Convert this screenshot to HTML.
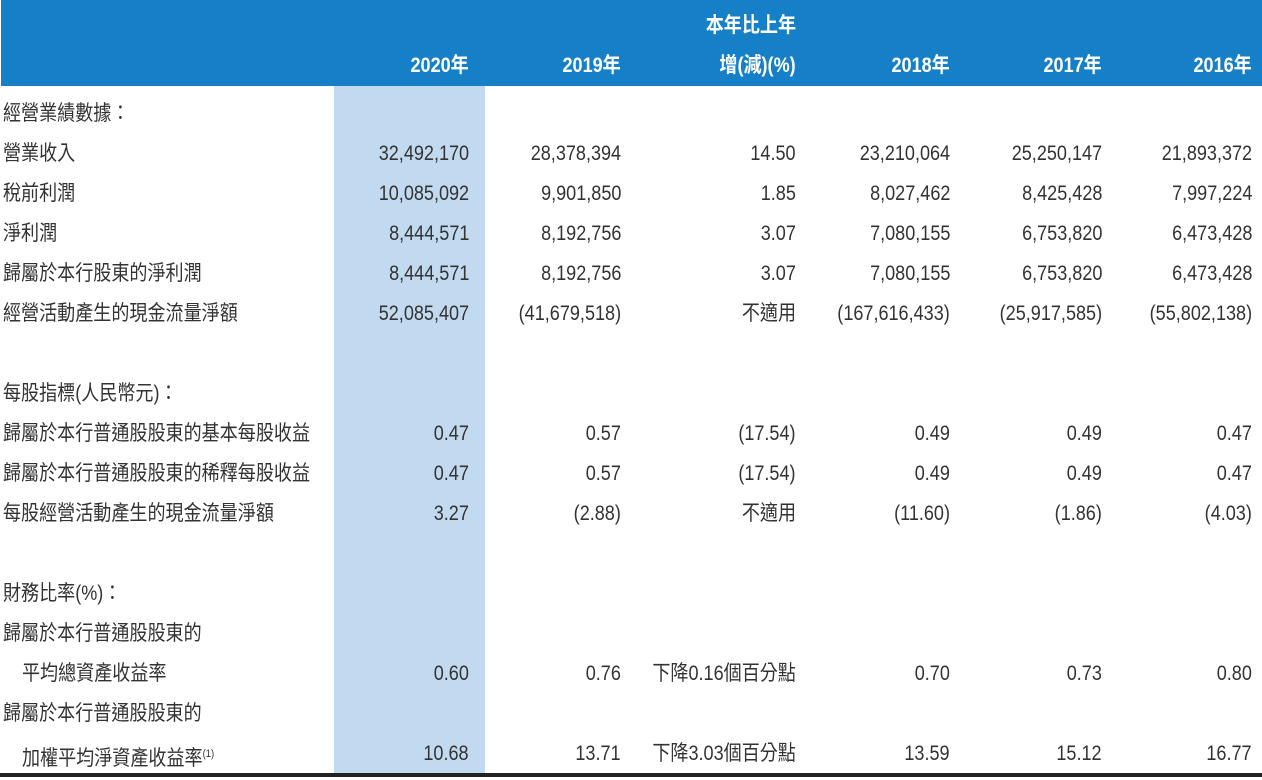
<!DOCTYPE html>
<html><head><meta charset="utf-8"><style>
body{margin:0;width:1262px;height:780px;background:#fff;position:relative;overflow:hidden;font-family:"Liberation Sans","Noto Sans CJK TC",sans-serif;color:#333}
#hdr{position:absolute;left:1px;top:0;width:1261px;height:86px;background:#157fc7}
#hl{position:absolute;left:334px;top:86px;width:151px;height:688px;background:#c2daef}
#rule{position:absolute;left:0;top:773px;width:1262px;height:4px;background:#222}
.t{position:absolute;font-size:21px;line-height:24px;white-space:nowrap;transform:scaleX(0.86)}
.l{transform-origin:left center}
.r{transform-origin:right center}
.h{color:#fff;font-weight:bold}
sup{font-size:11px}
</style></head><body>
<div id="hdr"></div>
<div id="hl"></div>
<div id="rule"></div>
<script>
const colRight=[469,621,796,950,1102,1252];
const headers=["2020年","2019年","增(減)(%)","2018年","2017年","2016年"];
const rows=[
["經營業績數據：",0,null],
["營業收入",0,["32,492,170","28,378,394","14.50","23,210,064","25,250,147","21,893,372"]],
["稅前利潤",0,["10,085,092","9,901,850","1.85","8,027,462","8,425,428","7,997,224"]],
["淨利潤",0,["8,444,571","8,192,756","3.07","7,080,155","6,753,820","6,473,428"]],
["歸屬於本行股東的淨利潤",0,["8,444,571","8,192,756","3.07","7,080,155","6,753,820","6,473,428"]],
["經營活動產生的現金流量淨額",0,["52,085,407","(41,679,518)","不適用","(167,616,433)","(25,917,585)","(55,802,138)"]],
null,
["每股指標(人民幣元)：",0,null],
["歸屬於本行普通股股東的基本每股收益",0,["0.47","0.57","(17.54)","0.49","0.49","0.47"]],
["歸屬於本行普通股股東的稀釋每股收益",0,["0.47","0.57","(17.54)","0.49","0.49","0.47"]],
["每股經營活動產生的現金流量淨額",0,["3.27","(2.88)","不適用","(11.60)","(1.86)","(4.03)"]],
null,
["財務比率(%)：",0,null],
["歸屬於本行普通股股東的",0,null],
["平均總資產收益率",1,["0.60","0.76","下降0.16個百分點","0.70","0.73","0.80"]],
["歸屬於本行普通股股東的",0,null],
["加權平均淨資產收益率<sup>(1)</sup>",1,["10.68","13.71","下降3.03個百分點","13.59","15.12","16.77"]]
];
function add(html,x,y,cls,name){
  const d=document.createElement('div');
  d.className='t '+cls;
  d.innerHTML=html;
  
  
  d.style.top=(y-12)+'px';
  if(cls.includes('r')){d.style.right=(1262-x)+'px';}else{d.style.left=x+'px';}
  document.body.appendChild(d);
}
add('本年比上年',796,26,'r h','header-change-top');
headers.forEach((h,i)=>add(h,colRight[i],66,'r h','header-col-'+i));
rows.forEach((r,i)=>{
  if(!r)return;
  const y=114+i*40;
  add(r[0],r[1]?22:3,y,'l','row-label-'+i);
  if(r[2])r[2].forEach((v,j)=>add(v,colRight[j],y,'r','cell-'+i+'-'+j));
});
</script>
</body></html>
